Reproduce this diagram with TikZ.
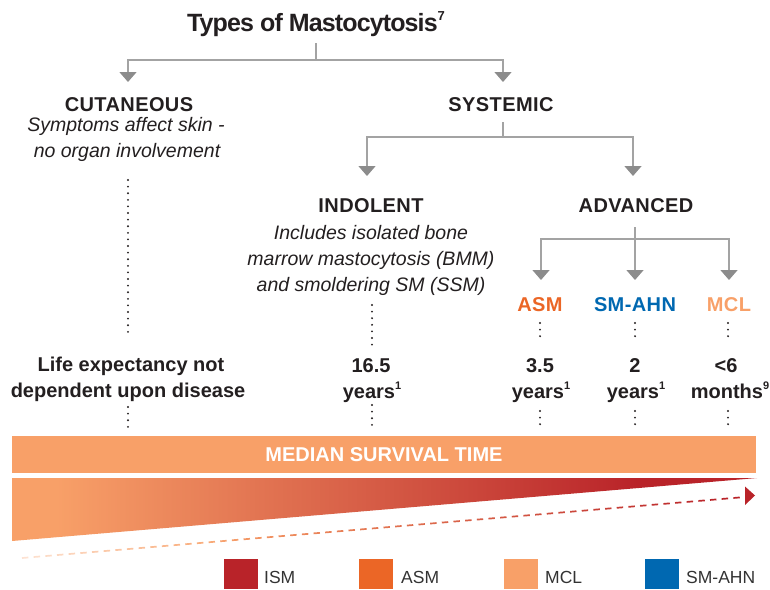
\documentclass[tikz,border=0pt]{standalone}
\usepackage{fontspec}
\setmainfont{Liberation Sans}
\newfontfamily\tightfont[LetterSpace=-3.5]{Liberation Sans}
\newfontfamily\headfont[LetterSpace=2]{Liberation Sans}
\usetikzlibrary{arrows.meta,calc}
\definecolor{mclc}{HTML}{F8A068}
\definecolor{asmc}{HTML}{EB6626}
\definecolor{ismc}{HTML}{B92329}
\definecolor{ahnc}{HTML}{0068B1}
\definecolor{linec}{HTML}{A3A3A3}
\definecolor{tipc}{HTML}{8C8C8C}
\definecolor{txt}{HTML}{231F20}
\definecolor{legtxt}{HTML}{333333}
\newcommand\mysup[1]{\raisebox{0.42em}{\fontsize{11}{11}\selectfont #1}}
\pgfdeclarehorizontalshading{wedgeshade}{100bp}{color(0bp)=(mclc); color(28bp)=(mclc); color(67bp)=(ismc); color(100bp)=(ismc)}
\tikzset{
  conn/.style={draw=linec, line width=1.5pt, -{Triangle[width=17pt,length=10pt,color=tipc]}},
  connl/.style={draw=linec, line width=1.5pt},
  head/.style={font=\headfont\bfseries\fontsize{20}{24}\selectfont, text=txt, anchor=base, inner sep=0pt},
  desc/.style={font=\itshape\fontsize{19.5}{24}\selectfont, text=txt, anchor=base, inner sep=0pt},
  val/.style={font=\bfseries\fontsize{20}{24}\selectfont, text=txt, anchor=base, inner sep=0pt},
  dotl/.style={draw=txt, line width=2.1pt, line cap=round, dash pattern=on 0pt off 6.6pt},
  legtext/.style={font=\fontsize{17.5}{20}\selectfont, text=legtxt, anchor=base west, inner sep=0pt}
}
\begin{document}
\begin{tikzpicture}[x=1pt,y=-1pt]
\useasboundingbox (0,0) rectangle (770,589);

% title
\node[anchor=base, inner sep=0pt, text=txt, font=\tightfont\bfseries\fontsize{25}{28}\selectfont] (title) at (316,31) {Types of Mastocytosis\raisebox{0.42em}{\fontsize{13}{13}\selectfont 7}};

% level 1
\node[head] (cut) at (129,111) {CUTANEOUS};
\node[head] (sys) at (501,111) {SYSTEMIC};
\node[desc] (cutd1) at (126,131) {Symptoms affect skin -};
\node[desc] (cutd2) at (127,157) {no organ involvement};

\coordinate (tstem) at (316,43);
\coordinate (j1) at (316,60);
\coordinate (cutin) at (128,82);
\coordinate (sysin) at (503,82);
\draw[connl] (tstem) -- (j1);
\draw[conn] (j1) -| (cutin);
\draw[conn] (j1) -| (sysin);

% level 2
\node[head] (ind) at (371,212) {INDOLENT};
\node[head] (adv) at (636,212) {ADVANCED};
\node[desc] (indd1) at (371,239) {Includes isolated bone};
\node[desc] (indd2) at (371,265) {marrow mastocytosis (BMM)};
\node[desc] (indd3) at (371,291) {and smoldering SM (SSM)};

\coordinate (sstem) at (503,122);
\coordinate (j2) at (503,137);
\coordinate (indin) at (367,176);
\coordinate (advin) at (633,176);
\draw[connl] (sstem) -- (j2);
\draw[conn] (j2) -| (indin);
\draw[conn] (j2) -| (advin);

% level 3
\node[head, text=asmc] (asm) at (540,311) {ASM};
\node[head, text=ahnc] (ahn) at (635,311) {SM-AHN};
\node[head, text=mclc] (mcl) at (729,311) {MCL};

\coordinate (astem) at (635,227);
\coordinate (j3) at (635,239);
\coordinate (asmin) at (541,280);
\coordinate (ahnin) at (635,280);
\coordinate (mclin) at (729,280);
\draw[connl] (astem) -- (j3);
\draw[conn] (j3) -| (asmin);
\draw[conn] (j3) -- (ahnin);
\draw[conn] (j3) -| (mclin);

% survival values
\node[val] (life1) at (131,371) {Life expectancy not};
\node[val] (life2) at (128,397) {dependent upon disease};
\node[val] (inda) at (371,372) {16.5};
\node[val] (indb) at (372,398) {years\mysup{1}};
\node[val] (asma) at (540,372) {3.5};
\node[val] (asmb) at (541,398) {years\mysup{1}};
\node[val] (ahna) at (635,372) {2};
\node[val] (ahnb) at (636,398) {years\mysup{1}};
\node[val] (mcla) at (726,372) {<6};
\node[val] (mclb) at (730,398) {months\mysup{9}};

% dotted leaders
\coordinate (c1) at (128,180); \coordinate (c2) at (128,336);
\coordinate (c3) at (128,407); \coordinate (c4) at (128,430);
\draw[dotl] (c1) -- (c2); \draw[dotl] (c3) -- (c4);
\coordinate (i1) at (372,305); \coordinate (i2) at (372,345);
\coordinate (i3) at (372,405); \coordinate (i4) at (372,430);
\draw[dotl] (i1) -- (i2); \draw[dotl] (i3) -- (i4);
\foreach \nm/\xx in {a/540,h/635,m/728}{
  \coordinate (\nm1) at (\xx,323); \coordinate (\nm2) at (\xx,337);
  \coordinate (\nm3) at (\xx,411); \coordinate (\nm4) at (\xx,430);
  \draw[dotl] (\nm1) -- (\nm2); \draw[dotl] (\nm3) -- (\nm4);
}

% median survival bar
\node[fill=mclc, minimum width=744pt, minimum height=37pt, inner sep=0pt, text=white,
      font=\bfseries\fontsize{20}{24}\selectfont] (bar) at (384,454.5) {MEDIAN SURVIVAL TIME};

% wedge
\shade[shading=wedgeshade] (12,478) -- (757,478) -- (12,541) -- cycle;

% dashed gradient arrow
\coordinate (ds) at (22,558);
\coordinate (de) at (745,497);
\coordinate (dtip) at (755,495.5);
\foreach \i in {0,...,61}{
  \pgfmathsetmacro\ta{\i/62}
  \pgfmathsetmacro\tb{(\i+0.55)/62}
  \pgfmathsetmacro\pw{min(100,30+\ta*230)}
  \pgfmathsetmacro\pr{max(0,min(100,(\ta-0.25)*140))}
  \colorlet{dcol}{mclc!\pw!white}
  \draw[draw=ismc!\pr!dcol, line width=1.7pt] ($(ds)!\ta!(de)$) -- ($(ds)!\tb!(de)$);
}
\fill[ismc] (745,486.5) -- (dtip) -- (745,505) -- cycle;

% legend
\fill[ismc] (224,559) rectangle (258,589);
\node[legtext] (lism) at (264,583) {ISM};
\fill[asmc] (359,559) rectangle (393,589);
\node[legtext] (lasm) at (401,583) {ASM};
\fill[mclc] (504,559) rectangle (538,589);
\node[legtext] (lmcl) at (545,583) {MCL};
\fill[ahnc] (645,559) rectangle (679,589);
\node[legtext] (lahn) at (686,583) {SM-AHN};
\end{tikzpicture}
\end{document}
